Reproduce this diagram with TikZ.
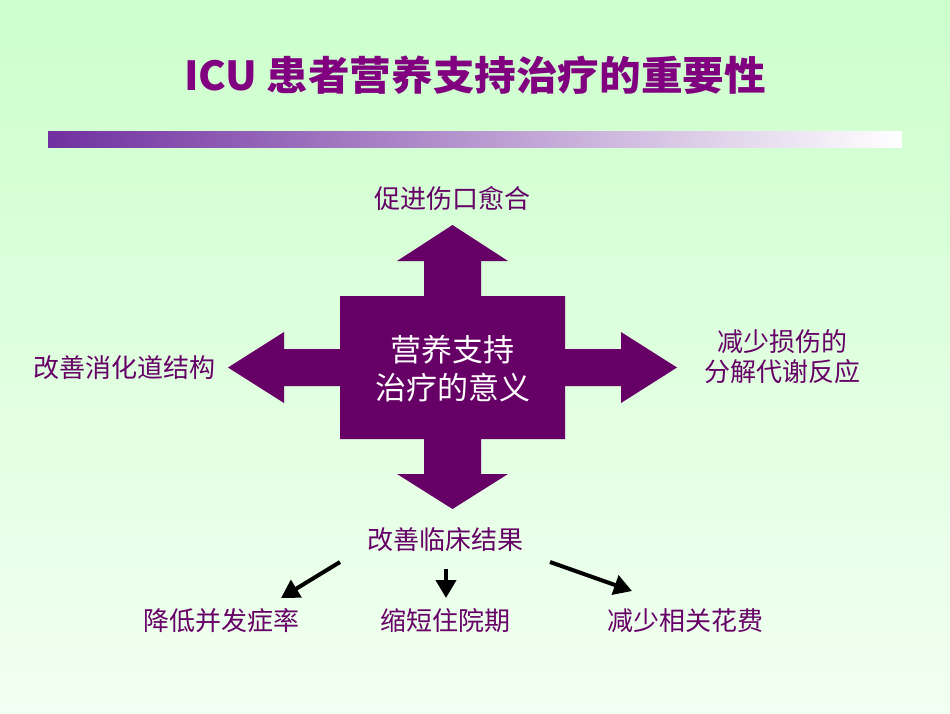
\documentclass[tikz,border=0pt]{standalone}
\usepackage{fontspec}
\setmainfont{Noto Sans CJK SC}
\usetikzlibrary{arrows.meta}
\definecolor{bgtop}{RGB}{204,255,204}
\definecolor{bgbot}{RGB}{242,255,242}
\definecolor{titlec}{RGB}{128,0,128}
\definecolor{labc}{RGB}{102,0,102}
\definecolor{shapec}{RGB}{102,0,102}
\definecolor{barc}{RGB}{112,48,160}
\tikzset{
  lab/.style={text=labc, font=\fontsize{26}{30}\selectfont, inner sep=0pt, align=center},
  outarrow/.style={line width=4pt, -{Triangle[length=18pt,width=20pt]}, black},
}
\begin{document}
\begin{tikzpicture}[x=1pt,y=-1pt]
\useasboundingbox (0,0) rectangle (950,713);
\shade[top color=bgtop, bottom color=bgbot] (0,0) rectangle (950,713);
% title
\node (title) at (475,75) [text=titlec, inner sep=0pt, xscale=1.04, font=\fontsize{40}{44}\selectfont\bfseries] {ICU 患者营养支持治疗的重要性};
% bar
\shade[left color=barc, right color=white] (48,131) rectangle (902,147);
% central cross
\fill[shapec] (452.5,225) -- (508,261) -- (481,261) -- (481,296) -- (565,296) -- (565,349) -- (621,349) -- (621,332) -- (677,367.5) -- (621,403) -- (621,386) -- (565,386) -- (565,439) -- (481,439) -- (481,474) -- (508,474) -- (452.5,509) -- (397,474) -- (424,474) -- (424,439) -- (340,439) -- (340,386) -- (284,386) -- (284,403) -- (228,367.5) -- (284,332) -- (284,349) -- (340,349) -- (340,296) -- (424,296) -- (424,261) -- (397,261) -- cycle;
\node (core) at (452.5,369) [text=white, inner sep=0pt, align=center, font=\fontsize{31}{38}\selectfont] {营养支持\\治疗的意义};
% labels
\node[lab] (up) at (452,199) {促进伤口愈合};
\node[lab] (left) at (124,368) {改善消化道结构};
\node[lab] (right) at (782,357) {减少损伤的\\分解代谢反应};
\node[lab] (res) at (445,540) {改善临床结果};
\node[lab] (o1) at (221,621) {降低并发症率};
\node[lab] (o2) at (445,621) {缩短住院期};
\node[lab] (o3) at (685,621) {减少相关花费};
% connector end points
\coordinate (s1) at (340,562);
\coordinate (e1) at (281,598);
\coordinate (s2) at (446,569);
\coordinate (e2) at (446,598);
\coordinate (s3) at (550,562);
\coordinate (e3) at (632,591);
\draw[outarrow] (s1) -- (e1);
\draw[outarrow] (s2) -- (e2);
\draw[outarrow] (s3) -- (e3);
\end{tikzpicture}
\end{document}
